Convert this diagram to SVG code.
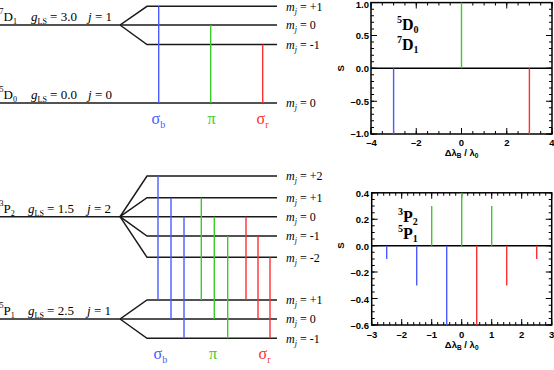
<svg xmlns="http://www.w3.org/2000/svg" width="554" height="370" viewBox="0 0 554 370">
<style>
.lv{fill:none;stroke:#1a1a1a;stroke-width:1.5}
.b{stroke:#4a5cff;stroke-width:1.4}
.g{stroke:#3ccc2a;stroke-width:1.4}
.r{stroke:#ff3030;stroke-width:1.4}
.t{font-family:"Liberation Serif",serif;font-size:13px;fill:#000}
.m{font-family:"Liberation Serif",serif;font-size:12px;fill:#000}
.sg{font-family:"Liberation Serif",serif;font-size:16px}
.ax{font-family:"Liberation Sans",Arial,sans-serif;font-size:9.5px;font-weight:bold;fill:#000}
.pl{font-family:"Liberation Serif",serif;font-size:16px;font-weight:bold;fill:#000}
.fr{fill:none;stroke:#000;stroke-width:1.5}
.tk{fill:none;stroke:#000}
</style>

<!-- Upper level diagram -->
<g id="level-7D1">
<polyline class="lv" points="0,25 120,25 147,6.3 277,6.3"/>
<polyline class="lv" points="120,25 277,25"/>
<polyline class="lv" points="120,25 147,44.5 277,44.5"/>
<text class="t" x="-0.5" y="21"><tspan font-size="8" dy="-7">7</tspan><tspan dy="7">D</tspan><tspan font-size="8" dy="3">1</tspan></text>
<text class="t" x="31" y="21"><tspan font-style="italic">g</tspan><tspan font-size="8" dy="3">LS</tspan><tspan dy="-3"> = 3.0</tspan></text>
<text class="t" x="88" y="21"><tspan font-style="italic">j</tspan> = 1</text>
</g>
<g id="level-5D0">
<polyline class="lv" points="0,103 277,103"/>
<text class="t" x="-0.5" y="99"><tspan font-size="8" dy="-7">5</tspan><tspan dy="7">D</tspan><tspan font-size="8" dy="3">0</tspan></text>
<text class="t" x="31" y="99"><tspan font-style="italic">g</tspan><tspan font-size="8" dy="3">LS</tspan><tspan dy="-3"> = 0.0</tspan></text>
<text class="t" x="88" y="99"><tspan font-style="italic">j</tspan> = 0</text>
</g>
<g id="mj-labels-top">
<text class="m" x="286" y="10.7"><tspan font-style="italic">m</tspan><tspan font-style="italic" font-size="8" dy="3">j</tspan><tspan dy="-3"> = +1</tspan></text>
<text class="m" x="286" y="29.4"><tspan font-style="italic">m</tspan><tspan font-style="italic" font-size="8" dy="3">j</tspan><tspan dy="-3"> = 0</tspan></text>
<text class="m" x="286" y="48.9"><tspan font-style="italic">m</tspan><tspan font-style="italic" font-size="8" dy="3">j</tspan><tspan dy="-3"> = -1</tspan></text>
<text class="m" x="286" y="107.4"><tspan font-style="italic">m</tspan><tspan font-style="italic" font-size="8" dy="3">j</tspan><tspan dy="-3"> = 0</tspan></text>
</g>
<g id="transitions-top">
<line class="b" x1="158.7" y1="6.3" x2="158.7" y2="103"/>
<line class="g" x1="210.7" y1="25" x2="210.7" y2="103"/>
<line class="r" x1="262.7" y1="44.5" x2="262.7" y2="103"/>
</g>
<g id="sigma-labels-top">
<text class="sg" x="151.5" y="124" fill="#4a5cff">σ<tspan font-size="10" dy="4">b</tspan></text>
<text class="sg" x="211.5" y="124" fill="#3ccc2a" text-anchor="middle">π</text>
<text class="sg" x="256.5" y="124" fill="#ff3030">σ<tspan font-size="10" dy="4">r</tspan></text>
</g>

<!-- Lower level diagram -->
<g id="level-3P2">
<polyline class="lv" points="0,216.7 120,216.7 147,176 277,176"/>
<polyline class="lv" points="120,216.7 147,197.7 277,197.7"/>
<polyline class="lv" points="120,216.7 277,216.7"/>
<polyline class="lv" points="120,216.7 147,236 277,236"/>
<polyline class="lv" points="120,216.7 147,257.3 277,257.3"/>
<text class="t" x="-0.5" y="213"><tspan font-size="8" dy="-7">3</tspan><tspan dy="7">P</tspan><tspan font-size="8" dy="3">2</tspan></text>
<text class="t" x="28" y="213"><tspan font-style="italic">g</tspan><tspan font-size="8" dy="3">LS</tspan><tspan dy="-3"> = 1.5</tspan></text>
<text class="t" x="87" y="213"><tspan font-style="italic">j</tspan> = 2</text>
</g>
<g id="level-5P1">
<polyline class="lv" points="0,319 120,319 147,300 277,300"/>
<polyline class="lv" points="120,319 277,319"/>
<polyline class="lv" points="120,319 147,338.3 277,338.3"/>
<text class="t" x="-0.5" y="315"><tspan font-size="8" dy="-7">5</tspan><tspan dy="7">P</tspan><tspan font-size="8" dy="3">1</tspan></text>
<text class="t" x="28" y="315"><tspan font-style="italic">g</tspan><tspan font-size="8" dy="3">LS</tspan><tspan dy="-3"> = 2.5</tspan></text>
<text class="t" x="87" y="315"><tspan font-style="italic">j</tspan> = 1</text>
</g>
<g id="mj-labels-bottom">
<text class="m" x="286" y="180.4"><tspan font-style="italic">m</tspan><tspan font-style="italic" font-size="8" dy="3">j</tspan><tspan dy="-3"> = +2</tspan></text>
<text class="m" x="286" y="202.1"><tspan font-style="italic">m</tspan><tspan font-style="italic" font-size="8" dy="3">j</tspan><tspan dy="-3"> = +1</tspan></text>
<text class="m" x="286" y="221.1"><tspan font-style="italic">m</tspan><tspan font-style="italic" font-size="8" dy="3">j</tspan><tspan dy="-3"> = 0</tspan></text>
<text class="m" x="286" y="240.4"><tspan font-style="italic">m</tspan><tspan font-style="italic" font-size="8" dy="3">j</tspan><tspan dy="-3"> = -1</tspan></text>
<text class="m" x="286" y="261.7"><tspan font-style="italic">m</tspan><tspan font-style="italic" font-size="8" dy="3">j</tspan><tspan dy="-3"> = -2</tspan></text>
<text class="m" x="286" y="304.4"><tspan font-style="italic">m</tspan><tspan font-style="italic" font-size="8" dy="3">j</tspan><tspan dy="-3"> = +1</tspan></text>
<text class="m" x="286" y="323.4"><tspan font-style="italic">m</tspan><tspan font-style="italic" font-size="8" dy="3">j</tspan><tspan dy="-3"> = 0</tspan></text>
<text class="m" x="286" y="342.7"><tspan font-style="italic">m</tspan><tspan font-style="italic" font-size="8" dy="3">j</tspan><tspan dy="-3"> = -1</tspan></text>
</g>
<g id="transitions-bottom">
<line class="b" x1="158" y1="176" x2="158" y2="300"/>
<line class="b" x1="171" y1="197.7" x2="171" y2="319"/>
<line class="b" x1="184" y1="216.7" x2="184" y2="338.3"/>
<line class="g" x1="201.3" y1="197.7" x2="201.3" y2="300"/>
<line class="g" x1="214.3" y1="216.7" x2="214.3" y2="319"/>
<line class="g" x1="227.7" y1="236" x2="227.7" y2="338.3"/>
<line class="r" x1="246" y1="216.7" x2="246" y2="300"/>
<line class="r" x1="258" y1="236" x2="258" y2="319"/>
<line class="r" x1="270" y1="257.3" x2="270" y2="338.3"/>
</g>
<g id="sigma-labels-bottom">
<text class="sg" x="153.5" y="359" fill="#4a5cff">σ<tspan font-size="10" dy="4">b</tspan></text>
<text class="sg" x="213" y="359" fill="#3ccc2a" text-anchor="middle">π</text>
<text class="sg" x="258.5" y="359" fill="#ff3030">σ<tspan font-size="10" dy="4">r</tspan></text>
</g>

<!-- Top plot -->
<g id="plot-top">
<rect class="fr" x="371" y="2.6" width="181" height="131.4"/>
<line class="tk" x1="370.5" y1="132.5" x2="552.5" y2="132.5" stroke-width="3" stroke-dasharray="1 10.3125"/>
<line class="tk" x1="370.5" y1="131" x2="552.5" y2="131" stroke-width="6" stroke-dasharray="1 44.25"/>
<line class="tk" x1="370.5" y1="4.1" x2="552.5" y2="4.1" stroke-width="3" stroke-dasharray="1 10.3125"/>
<line class="tk" x1="370.5" y1="5.6" x2="552.5" y2="5.6" stroke-width="6" stroke-dasharray="1 44.25"/>
<line class="tk" x1="372.5" y1="2.1" x2="372.5" y2="134.5" stroke-width="3" stroke-dasharray="1 5.57"/>
<line class="tk" x1="374" y1="2.1" x2="374" y2="134.5" stroke-width="6" stroke-dasharray="1 31.85"/>
<line class="tk" x1="550.5" y1="2.1" x2="550.5" y2="134.5" stroke-width="3" stroke-dasharray="1 5.57"/>
<line class="tk" x1="549" y1="2.1" x2="549" y2="134.5" stroke-width="6" stroke-dasharray="1 31.85"/>
<line x1="371" y1="68.3" x2="552" y2="68.3" stroke="#000" stroke-width="1.5"/>
<line class="b" x1="393.6" y1="68.3" x2="393.6" y2="134"/>
<line class="g" x1="461.5" y1="68.3" x2="461.5" y2="2.6"/>
<line class="r" x1="529.4" y1="68.3" x2="529.4" y2="134"/>
<g class="ax" text-anchor="end">
<text x="369" y="8">1.0</text>
<text x="369" y="39">0.5</text>
<text x="369" y="71.8">0.0</text>
<text x="369" y="104.6">–0.5</text>
<text x="369" y="137.4">–1.0</text>
</g>
<g class="ax" text-anchor="middle">
<text x="371.5" y="145.5">–4</text>
<text x="416.3" y="145.5">–2</text>
<text x="461.5" y="145.5">0</text>
<text x="506.8" y="145.5">2</text>
<text x="552" y="145.5">4</text>
<text x="461.5" y="156">Δλ<tspan font-size="6.5" dy="2">B</tspan><tspan dy="-2"> / λ</tspan><tspan font-size="6.5" dy="2">0</tspan></text>
<text x="0" y="0" transform="translate(344,68.3) rotate(-90)">S</text>
</g>
<text class="pl" x="397" y="30"><tspan font-size="10" dy="-7">5</tspan><tspan dy="7">D</tspan><tspan font-size="10" dy="3">0</tspan></text>
<text class="pl" x="397" y="50"><tspan font-size="10" dy="-7">7</tspan><tspan dy="7">D</tspan><tspan font-size="10" dy="3">1</tspan></text>
</g>

<!-- Bottom plot -->
<g id="plot-bottom">
<rect class="fr" x="371.7" y="192.8" width="180" height="132.2"/>
<line class="tk" x1="371.2" y1="323.5" x2="552.2" y2="323.5" stroke-width="3" stroke-dasharray="1 5"/>
<line class="tk" x1="371.2" y1="322" x2="552.2" y2="322" stroke-width="6" stroke-dasharray="1 29"/>
<line class="tk" x1="371.2" y1="194.3" x2="552.2" y2="194.3" stroke-width="3" stroke-dasharray="1 5"/>
<line class="tk" x1="371.2" y1="195.8" x2="552.2" y2="195.8" stroke-width="6" stroke-dasharray="1 29"/>
<line class="tk" x1="373.2" y1="192.3" x2="373.2" y2="325.5" stroke-width="3" stroke-dasharray="1 5.61"/>
<line class="tk" x1="374.7" y1="192.3" x2="374.7" y2="325.5" stroke-width="6" stroke-dasharray="1 25.44"/>
<line class="tk" x1="550.2" y1="192.3" x2="550.2" y2="325.5" stroke-width="3" stroke-dasharray="1 5.61"/>
<line class="tk" x1="548.7" y1="192.3" x2="548.7" y2="325.5" stroke-width="6" stroke-dasharray="1 25.44"/>
<line x1="371.7" y1="245.7" x2="551.7" y2="245.7" stroke="#000" stroke-width="1.5"/>
<line class="b" x1="386.7" y1="245.7" x2="386.7" y2="258.9"/>
<line class="b" x1="416.7" y1="245.7" x2="416.7" y2="285.4"/>
<line class="b" x1="446.7" y1="245.7" x2="446.7" y2="325"/>
<line class="r" x1="476.7" y1="245.7" x2="476.7" y2="325"/>
<line class="r" x1="506.7" y1="245.7" x2="506.7" y2="285.4"/>
<line class="r" x1="536.7" y1="245.7" x2="536.7" y2="258.9"/>
<line class="g" x1="431.7" y1="245.7" x2="431.7" y2="206"/>
<line class="g" x1="461.7" y1="245.7" x2="461.7" y2="192.8"/>
<line class="g" x1="491.7" y1="245.7" x2="491.7" y2="206"/>
<g class="ax" text-anchor="end">
<text x="369" y="197">0.4</text>
<text x="369" y="223.3">0.2</text>
<text x="369" y="249.6">0.0</text>
<text x="369" y="276">–0.2</text>
<text x="369" y="302.5">–0.4</text>
<text x="369" y="328.5">–0.6</text>
</g>
<g class="ax" text-anchor="middle">
<text x="372" y="337.5">–3</text>
<text x="401.7" y="337.5">–2</text>
<text x="431.7" y="337.5">–1</text>
<text x="461.7" y="337.5">0</text>
<text x="491.7" y="337.5">1</text>
<text x="521.7" y="337.5">2</text>
<text x="551.7" y="337.5">3</text>
<text x="461.7" y="347.5">Δλ<tspan font-size="6.5" dy="2">B</tspan><tspan dy="-2"> / λ</tspan><tspan font-size="6.5" dy="2">0</tspan></text>
<text x="0" y="0" transform="translate(344,245.7) rotate(-90)">S</text>
</g>
<text class="pl" x="398" y="222"><tspan font-size="10" dy="-7">3</tspan><tspan dy="7">P</tspan><tspan font-size="10" dy="3">2</tspan></text>
<text class="pl" x="398" y="239"><tspan font-size="10" dy="-7">5</tspan><tspan dy="7">P</tspan><tspan font-size="10" dy="3">1</tspan></text>
</g>
</svg>
